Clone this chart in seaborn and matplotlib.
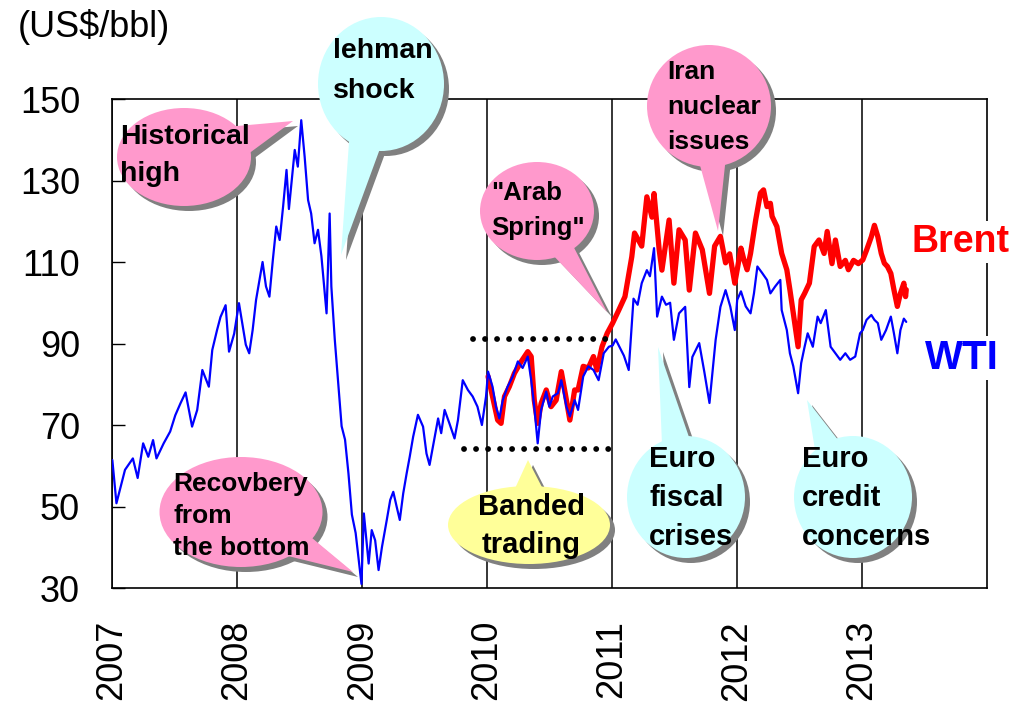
import pandas as pd
import seaborn as sns
import matplotlib.pyplot as plt
from matplotlib.patches import Ellipse, Polygon

sns.set_theme(style="white")
plt.rcParams['font.family'] = ['Liberation Sans', 'DejaVu Sans']

# WTI spot price, US$/bbl
wti_dates = [
    "2007-01-02", "2007-01-14", "2007-01-29", "2007-02-08", "2007-03-03", "2007-03-17",
    "2007-04-02", "2007-04-17", "2007-05-01", "2007-05-11", "2007-06-01", "2007-06-20",
    "2007-07-05", "2007-07-20", "2007-08-04", "2007-08-23", "2007-09-07", "2007-09-22",
    "2007-10-11", "2007-10-21", "2007-11-04", "2007-11-14", "2007-11-29", "2007-12-09",
    "2007-12-24",
    "2008-01-07", "2008-01-27", "2008-02-06", "2008-02-16", "2008-02-26", "2008-03-16",
    "2008-03-26", "2008-04-05", "2008-04-15", "2008-04-25", "2008-05-05", "2008-05-15",
    "2008-05-25", "2008-06-01", "2008-06-18", "2008-06-27", "2008-07-07", "2008-07-17",
    "2008-07-27", "2008-08-05", "2008-08-15", "2008-08-25", "2008-09-04", "2008-09-19",
    "2008-09-28", "2008-10-03", "2008-10-13", "2008-10-23", "2008-11-02", "2008-11-12",
    "2008-11-22", "2008-12-02", "2008-12-13", "2008-12-30",
    "2009-01-06", "2009-01-20", "2009-01-29", "2009-02-08", "2009-02-18", "2009-02-28",
    "2009-03-14", "2009-03-24", "2009-04-02", "2009-04-12", "2009-04-21", "2009-05-01",
    "2009-05-11", "2009-05-20", "2009-05-30", "2009-06-13", "2009-06-28", "2009-07-08",
    "2009-07-17", "2009-08-01", "2009-08-11", "2009-08-20", "2009-08-30", "2009-09-13",
    "2009-09-28", "2009-10-08", "2009-10-22", "2009-11-06", "2009-11-20", "2009-12-04",
    "2009-12-17", "2009-12-29",
    "2010-01-04", "2010-01-17", "2010-01-27", "2010-02-06", "2010-02-16", "2010-03-02",
    "2010-03-17", "2010-04-01", "2010-04-15", "2010-04-30", "2010-05-10", "2010-05-19",
    "2010-05-29", "2010-06-08", "2010-06-23", "2010-07-02", "2010-07-12", "2010-07-27",
    "2010-08-06", "2010-08-21", "2010-08-31", "2010-09-14", "2010-09-24", "2010-10-09",
    "2010-10-24", "2010-11-08", "2010-11-23", "2010-12-08", "2010-12-23",
    "2011-01-03", "2011-01-12", "2011-01-24", "2011-02-05", "2011-02-19", "2011-03-05",
    "2011-03-17", "2011-03-29", "2011-04-13", "2011-04-22", "2011-05-04", "2011-05-13",
    "2011-05-27", "2011-06-08", "2011-06-20", "2011-07-01", "2011-07-16", "2011-08-03",
    "2011-08-15", "2011-08-24", "2011-09-13", "2011-09-28", "2011-10-13", "2011-10-31",
    "2011-11-14", "2011-11-29", "2011-12-13", "2011-12-26",
    "2012-01-02", "2012-01-13", "2012-01-27", "2012-02-10", "2012-02-20", "2012-03-01",
    "2012-03-15", "2012-03-29", "2012-04-08", "2012-04-22", "2012-05-07", "2012-05-11",
    "2012-05-26", "2012-06-04", "2012-06-14", "2012-06-28", "2012-07-07", "2012-07-17",
    "2012-07-26", "2012-08-10", "2012-08-24", "2012-09-02", "2012-09-17", "2012-10-01",
    "2012-10-15", "2012-10-29", "2012-11-13", "2012-11-27", "2012-12-12", "2012-12-26",
    "2013-01-03", "2013-01-14", "2013-01-28", "2013-02-06", "2013-02-16", "2013-02-26",
    "2013-03-12", "2013-03-26", "2013-04-04", "2013-04-14", "2013-04-23", "2013-05-03",
    "2013-05-10",
]
wti_usd = [
    61.4, 50.8, 55.7, 59.0, 61.8, 57.0,
    65.5, 62.2, 66.3, 61.8, 65.5, 68.4,
    72.4, 75.3, 78.0, 69.6, 73.7, 83.5,
    79.4, 88.4, 93.3, 96.5, 99.4, 88.0,
    92.4,
    99.9, 89.7, 87.6, 93.3, 100.7, 110.0,
    104.0, 101.5, 110.5, 118.7, 115.4, 123.6,
    132.6, 123.0, 137.5, 133.4, 144.8, 135.8,
    125.2, 121.9, 114.6, 117.9, 111.4, 97.4,
    121.9, 104.0, 91.0, 80.3, 69.7, 66.4,
    58.1, 48.0, 43.5, 31.0,
    48.3, 36.0, 44.2, 41.7, 34.4, 40.1,
    46.7, 51.6, 53.6, 49.9, 46.7, 53.2,
    58.1, 62.2, 67.1, 72.5, 69.6, 63.0,
    60.2, 67.1, 71.6, 68.0, 73.7, 70.4,
    66.7, 71.2, 81.0, 78.6, 77.0, 74.5,
    70.0, 77.0,
    83.1, 79.4, 74.5, 71.6, 76.1, 79.4,
    81.9, 85.6, 84.0, 86.8, 81.0, 74.5,
    65.5, 73.7, 78.2, 74.5, 77.0, 77.8,
    81.0, 74.5, 72.1, 76.1, 73.7, 81.9,
    84.4, 83.5, 81.0, 87.6, 89.2,
    89.5, 91.0, 89.0, 87.0, 83.5, 101.0,
    99.5, 104.8, 108.0, 106.5, 113.4, 96.6,
    101.5, 99.5, 100.0, 90.9, 97.4, 99.0,
    79.3, 86.7, 90.1, 83.0, 75.4, 90.9,
    99.0, 103.1, 99.0, 93.3,
    100.7, 102.8, 99.1, 97.4, 102.3, 108.9,
    107.3, 105.6, 102.3, 104.0, 105.6, 98.2,
    93.3, 87.6, 84.4, 77.8, 85.2, 89.2,
    92.5, 89.2, 96.6, 95.0, 98.2, 89.2,
    87.6, 86.0, 87.6, 86.0, 86.8, 92.5,
    93.3, 95.8, 97.0, 95.8, 95.0, 90.9,
    93.3, 96.6, 92.5, 87.6, 93.3, 96.1,
    95.3,
]

# Brent spot price, US$/bbl
brent_dates = [
    "2010-01-04", "2010-01-17", "2010-02-01", "2010-02-11", "2010-02-21", "2010-03-07",
    "2010-03-22", "2010-04-11", "2010-04-30", "2010-05-10", "2010-05-19", "2010-05-29",
    "2010-06-08", "2010-06-23", "2010-07-07", "2010-07-22", "2010-08-06", "2010-08-21",
    "2010-08-31", "2010-09-14", "2010-09-24", "2010-10-09", "2010-10-24", "2010-11-08",
    "2010-11-18", "2010-12-03", "2010-12-18",
    "2011-01-03", "2011-01-21", "2011-02-08", "2011-02-28", "2011-03-08", "2011-03-29",
    "2011-04-13", "2011-04-28", "2011-05-04", "2011-05-19", "2011-05-27", "2011-06-17",
    "2011-07-01", "2011-07-16", "2011-08-03", "2011-08-15", "2011-09-02", "2011-09-22",
    "2011-10-13", "2011-10-28", "2011-11-14", "2011-11-29", "2011-12-11", "2011-12-26",
    "2012-01-02", "2012-01-13", "2012-01-22", "2012-01-31", "2012-02-10", "2012-02-25",
    "2012-03-10", "2012-03-19", "2012-03-29", "2012-04-08", "2012-04-13", "2012-04-27",
    "2012-05-11", "2012-05-26", "2012-06-04", "2012-06-14", "2012-06-28", "2012-07-07",
    "2012-07-17", "2012-07-31", "2012-08-14", "2012-08-28", "2012-09-12", "2012-09-21",
    "2012-10-05", "2012-10-15", "2012-10-29", "2012-11-13", "2012-11-22", "2012-12-07",
    "2012-12-21",
    "2013-01-03", "2013-01-14", "2013-01-28", "2013-02-06", "2013-02-16", "2013-02-26",
    "2013-03-07", "2013-03-16", "2013-03-26", "2013-04-04", "2013-04-14", "2013-04-23",
    "2013-05-03", "2013-05-08", "2013-05-10",
]
brent_usd = [
    81.9, 77.0, 71.2, 70.4, 77.0, 79.4,
    82.7, 85.6, 88.0, 86.8, 76.1, 70.4,
    75.3, 78.6, 74.5, 76.1, 83.1, 76.1,
    71.2, 78.6, 78.6, 84.4, 84.0, 86.8,
    83.5, 89.2, 92.5,
    95.0, 98.2, 101.5, 111.3, 117.1, 113.9,
    126.0, 121.0, 126.8, 113.0, 108.0, 120.3,
    104.8, 117.9, 115.4, 103.1, 117.1, 113.0,
    102.3, 113.9, 116.3, 109.8, 112.0, 104.8,
    108.1, 113.4, 110.4, 108.1, 112.1, 120.3,
    126.9, 127.7, 123.6, 124.4, 121.2, 118.7,
    112.1, 108.1, 103.2, 97.4, 89.2, 100.7,
    102.3, 104.8, 113.8, 115.4, 112.1, 117.5,
    109.6, 115.4, 108.9, 110.4, 108.1, 110.4,
    109.6,
    110.5, 112.9, 116.2, 119.0, 116.2, 112.1,
    109.7, 108.9, 107.2, 103.2, 99.1, 102.3,
    104.8, 101.5, 103.2,
]

# "banded trading" range in 2010
band_levels = [91, 64]
band_starts = ["2009-11-20", "2009-10-25"]
band_end = "2011-01-05"

years = ["2007", "2008", "2009", "2010", "2011", "2012", "2013"]
y_ticks = [30, 50, 70, 90, 110, 130, 150]

wti = pd.DataFrame({"date": pd.to_datetime(wti_dates), "usd": wti_usd})
brent = pd.DataFrame({"date": pd.to_datetime(brent_dates), "usd": brent_usd})

W, H = 1017, 706
fig = plt.figure(figsize=(W / 100, H / 100), dpi=100)
ax = fig.add_axes([112 / W, 1 - 588 / H, 875 / W, 489 / H])

sns.lineplot(data=brent, x="date", y="usd", color="#FF0000", lw=3.8,
             estimator=None, sort=False, ax=ax, zorder=2)
sns.lineplot(data=wti, x="date", y="usd", color="#0000FF", lw=1.6,
             estimator=None, sort=False, ax=ax, zorder=3)

# dotted band lines
for lvl, start in zip(band_levels, band_starts):
    ax.plot(pd.to_datetime([start, band_end]), [lvl, lvl], color="black", lw=4.2,
            ls=(0, (0.01, 2.05)), dash_capstyle="round", zorder=4)

ax.set_xlim(pd.Timestamp("2007-01-01"), pd.Timestamp("2014-01-01"))
ax.set_ylim(30, 150)
ax.set_xticks(pd.to_datetime([y + "-01-01" for y in years]), years, rotation=90)
ax.set_yticks(y_ticks)
ax.set_xlabel("")
ax.set_ylabel("")
ax.tick_params(axis="x", length=0, pad=23, labelsize=26, colors="black")
ax.tick_params(axis="y", direction="in", length=9, width=1, left=True, pad=23,
               labelsize=26, colors="black")
ax.grid(False)
ax.grid(axis="x", color="black", lw=1.1)
for s in ax.spines.values():
    s.set_color("black")
    s.set_linewidth(1.2)

# overlay in pixel coordinates for the callouts
ov = fig.add_axes([0, 0, 1, 1], zorder=5)
ov.set_xlim(0, W)
ov.set_ylim(H, 0)
ov.axis("off")
ov.patch.set_alpha(0)

PINK, CYAN, YELLOW, SHADOW = "#FF99CC", "#CCFFFF", "#FFFF99", "#808080"


def bubble(cx, cy, w, h, color, base, tip, lines, tx, ty, dy, size, ha="left"):
    tail = [base[0], base[1], tip]
    off = 5
    ov.add_patch(Polygon([(x + off, y + off) for x, y in tail], fc=SHADOW, ec="none", zorder=1))
    ov.add_patch(Ellipse((cx + off, cy + off), w, h, fc=SHADOW, ec="none", zorder=1))
    ov.add_patch(Polygon(tail, fc=color, ec="none", zorder=2))
    ov.add_patch(Ellipse((cx, cy), w, h, fc=color, ec="none", zorder=2))
    for i, t in enumerate(lines):
        ov.text(tx, ty + i * dy, t, ha=ha, va="center", fontsize=size,
                fontweight="bold", color="black", zorder=3)


bubble(184, 157, 134, 98, PINK, [(226, 127), (240, 160)], (293, 121),
       ["Historical", "high"], 120, 137, 37, 20.5)
bubble(381, 84, 126, 134, CYAN, [(350, 128), (385, 135)], (341, 255),
       ["lehman", "shock"], 333, 51, 40, 20.5)
bubble(241, 512, 163, 110, PINK, [(300, 528), (288, 556)], (353, 572),
       ["Recovbery", "from", "the bottom"], 173, 484, 32, 19)
bubble(529, 525, 162, 78, YELLOW, [(512, 495), (546, 495)], (528, 460),
       ["Banded", "trading"], 531, 507, 38, 21, ha="center")
bubble(537, 211, 114, 98, PINK, [(566, 232), (550, 252)], (607, 312),
       ['"Arab', 'Spring"'], 491, 193, 35, 18.5)
bubble(709, 106, 124, 122, PINK, [(698, 158), (726, 156)], (718, 231),
       ["Iran", "nuclear", "issues"], 667, 72, 35, 19)
bubble(686, 497, 118, 122, CYAN, [(662, 445), (690, 440)], (658, 347),
       ["Euro", "fiscal", "crises"], 649, 459, 39, 21)
bubble(853, 497, 118, 122, CYAN, [(815, 450), (842, 445)], (807, 400),
       ["Euro", "credit", "concerns"], 802, 459, 39, 21)

ov.text(912, 242, "Brent", color="#FF0000", fontsize=27, fontweight="bold", va="center",
        bbox=dict(fc="white", ec="none", pad=2))
ov.text(925, 358, "WTI", color="#0000FF", fontsize=29, fontweight="bold", va="center",
        bbox=dict(fc="white", ec="none", pad=2))
ov.text(18, 27, "(US$/bbl)", fontsize=26, va="center", color="black")

fig.savefig("out.png", dpi=100)
